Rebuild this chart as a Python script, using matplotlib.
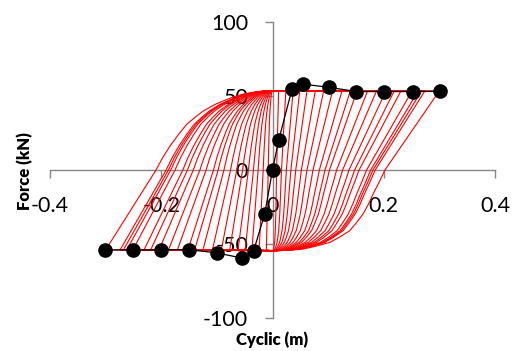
import matplotlib.pyplot as plt

# amplitudes of the hysteresis cycles (m)
amplitudes = [0.30, 0.274, 0.268, 0.262, 0.251, 0.231, 0.219, 0.204, 0.187,
              0.171, 0.152, 0.140, 0.125, 0.108, 0.092, 0.077, 0.062, 0.049,
              0.037, 0.024, 0.011]

# descending branch: x / amplitude  ->  force (kN)
desc_s = [1.0, 0.674, 0.64, 0.603, 0.575, 0.543, 0.50, 0.463, 0.40, 0.343,
          0.26, 0.183, 0.10, 0.025]
desc_f = [53.5, 0.0, -8.0, -16.2, -23.0, -29.7, -36.0, -41.0, -45.5, -48.9,
          -51.5, -53.4, -54.2, -54.5]

# ascending branch: -x / amplitude  ->  force (kN)
asc_s = [1.0, 0.698, 0.66, 0.613, 0.56, 0.513, 0.46, 0.413, 0.35, 0.293,
         0.23, 0.173, 0.10, 0.033]
asc_f = [-54.0, 0.0, 8.0, 16.4, 24.5, 31.0, 36.0, 40.0, 44.0, 46.8,
         49.5, 51.4, 52.8, 53.6]

# backbone points
bb_x = [-0.301, -0.25, -0.2, -0.151, -0.1, -0.055, -0.034, -0.014, 0.0,
        0.011, 0.035, 0.055, 0.101, 0.151, 0.2, 0.252, 0.302]
bb_y = [-54, -54, -54, -53.8, -56, -59.5, -54.7, -29.7, 0,
        20, 54.5, 58, 55.9, 53, 53, 53, 53.2]

plt.rcParams['font.family'] = ['Lato', 'DejaVu Sans']

fig = plt.figure(figsize=(5.15, 3.51), dpi=100)
ax = fig.add_axes([50 / 515, 1 - 318 / 351, 445 / 515, 296 / 351])

for d in amplitudes:
    xs = [d * s for s in desc_s] + [-d]
    ys = list(desc_f) + [-54.0]
    xs += [-d * s for s in asc_s] + [d]
    ys += list(asc_f) + [53.5]
    ax.plot(xs, ys, color='#FF0000', lw=0.8, zorder=2)

ax.plot(bb_x, bb_y, color='black', lw=0.9, marker='o', markersize=9.5, zorder=3)

ax.set_xlim(-0.4, 0.4)
ax.set_ylim(-100, 100)
ax.set_xticks([-0.4, -0.2, 0, 0.2, 0.4])
ax.set_xticklabels(['-0.4', '-0.2', '0', '0.2', '0.4'])
ax.set_yticks([-100, -50, 0, 50, 100])
ax.set_yticklabels(['-100', '-50', '0', '50', '100'])

for side in ['top', 'right']:
    ax.spines[side].set_visible(False)
for side in ['left', 'bottom']:
    ax.spines[side].set_position(('data', 0))
    ax.spines[side].set_color('#868686')
    ax.spines[side].set_linewidth(1.0)
    ax.spines[side].set_zorder(1)

ax.tick_params(axis='x', direction='out', length=6, width=1, color='#868686',
               pad=13, labelsize=15.5)
ax.tick_params(axis='y', direction='out', length=6, width=1, color='#868686',
               pad=11.5, labelsize=15.5)
ax.patch.set_visible(False)

fig.text(24.5 / 515, 1 - 171 / 351, 'Force (kN)', rotation=90, ha='center',
         va='center', fontsize=12, fontweight='heavy')
fig.text(272.5 / 515, 1 - 339.5 / 351, 'Cyclic (m)', ha='center', va='center',
         fontsize=12, fontweight='heavy')

fig.savefig('out.png', dpi=100)
